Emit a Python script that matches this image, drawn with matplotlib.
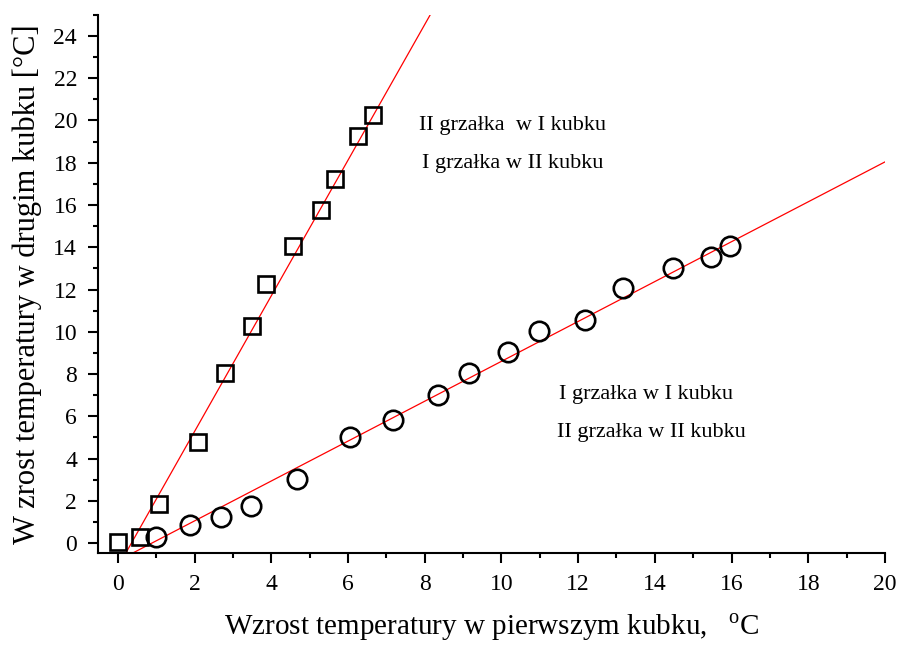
import matplotlib.pyplot as plt
import numpy as np
from matplotlib.ticker import MultipleLocator

plt.rcParams['font.family'] = ['Liberation Serif', 'DejaVu Serif']
plt.rcParams['mathtext.fontset'] = 'custom'
plt.rcParams['mathtext.rm'] = 'Liberation Serif'

# II grzalka w I kubku / I grzalka w II kubku (squares)
sq_x = [0.0, 0.57, 1.07, 2.09, 2.79, 3.49, 3.86, 4.56, 5.29, 5.66, 6.26, 6.65]
sq_y = [0.05, 0.3, 1.85, 4.78, 8.05, 10.25, 12.25, 14.05, 15.75, 17.25, 19.25, 20.25]

# I grzalka w I kubku / II grzalka w II kubku (circles)
ci_x = [0.99, 1.88, 2.69, 3.47, 4.67, 6.05, 7.17, 8.34, 9.15, 10.17, 10.98, 12.18, 13.17, 14.47, 15.46, 15.96]
ci_y = [0.3, 0.85, 1.23, 1.75, 3.03, 5.02, 5.82, 7.0, 8.05, 9.06, 10.06, 10.56, 12.05, 13.03, 13.52, 14.05]

# linear fits as drawn in the original (slope, intercept)
fit_sq = [3.21, -1.14]
fit_ci = [0.944, -0.84]

fig = plt.figure(figsize=(8.98, 6.46), dpi=100)
ax = fig.add_axes([0.109, 0.144, 0.8765, 0.833])

xx = np.array([-0.5, 20.0])
ax.plot(xx, np.polyval(fit_sq, xx), color='red', lw=0.9)
ax.plot(xx, np.polyval(fit_ci, xx), color='red', lw=0.9)

ax.plot(sq_x, sq_y, 's', ms=11.5, mfc='none', mec='black', mew=1.9)
ax.plot(ci_x, ci_y, 'o', ms=14, mfc='none', mec='black', mew=1.9)

ax.set_xlim(-0.52, 20)
ax.set_ylim(-0.47, 25)
ax.spines['top'].set_visible(False)
ax.spines['right'].set_visible(False)
for s in ('left', 'bottom'):
    ax.spines[s].set_linewidth(1.5)

ax.xaxis.set_major_locator(MultipleLocator(2))
ax.xaxis.set_minor_locator(MultipleLocator(1))
ax.yaxis.set_major_locator(MultipleLocator(2))
ax.yaxis.set_minor_locator(MultipleLocator(1))
ax.tick_params(which='major', direction='out', length=7, width=1.5, labelsize=17, pad=8)
ax.tick_params(which='minor', direction='out', length=3.5, width=1.5)

ax.set_xlabel('Wzrost temperatury w pierwszym kubku,   $^{\\rm o}$C', fontsize=21, labelpad=12)
ax.set_ylabel('W zrost temperatury w drugim kubku [°C]', fontsize=22, labelpad=8)

ax.text(7.85, 19.75, 'II grzałka  w I kubku', fontsize=16, va='center')
ax.text(7.93, 17.95, 'I grzałka w II kubku', fontsize=16, va='center')
ax.text(11.5, 7.05, 'I grzałka w I kubku', fontsize=16, va='center')
ax.text(11.45, 5.25, 'II grzałka w II kubku', fontsize=16, va='center')

fig.savefig('out.png', dpi=100)
